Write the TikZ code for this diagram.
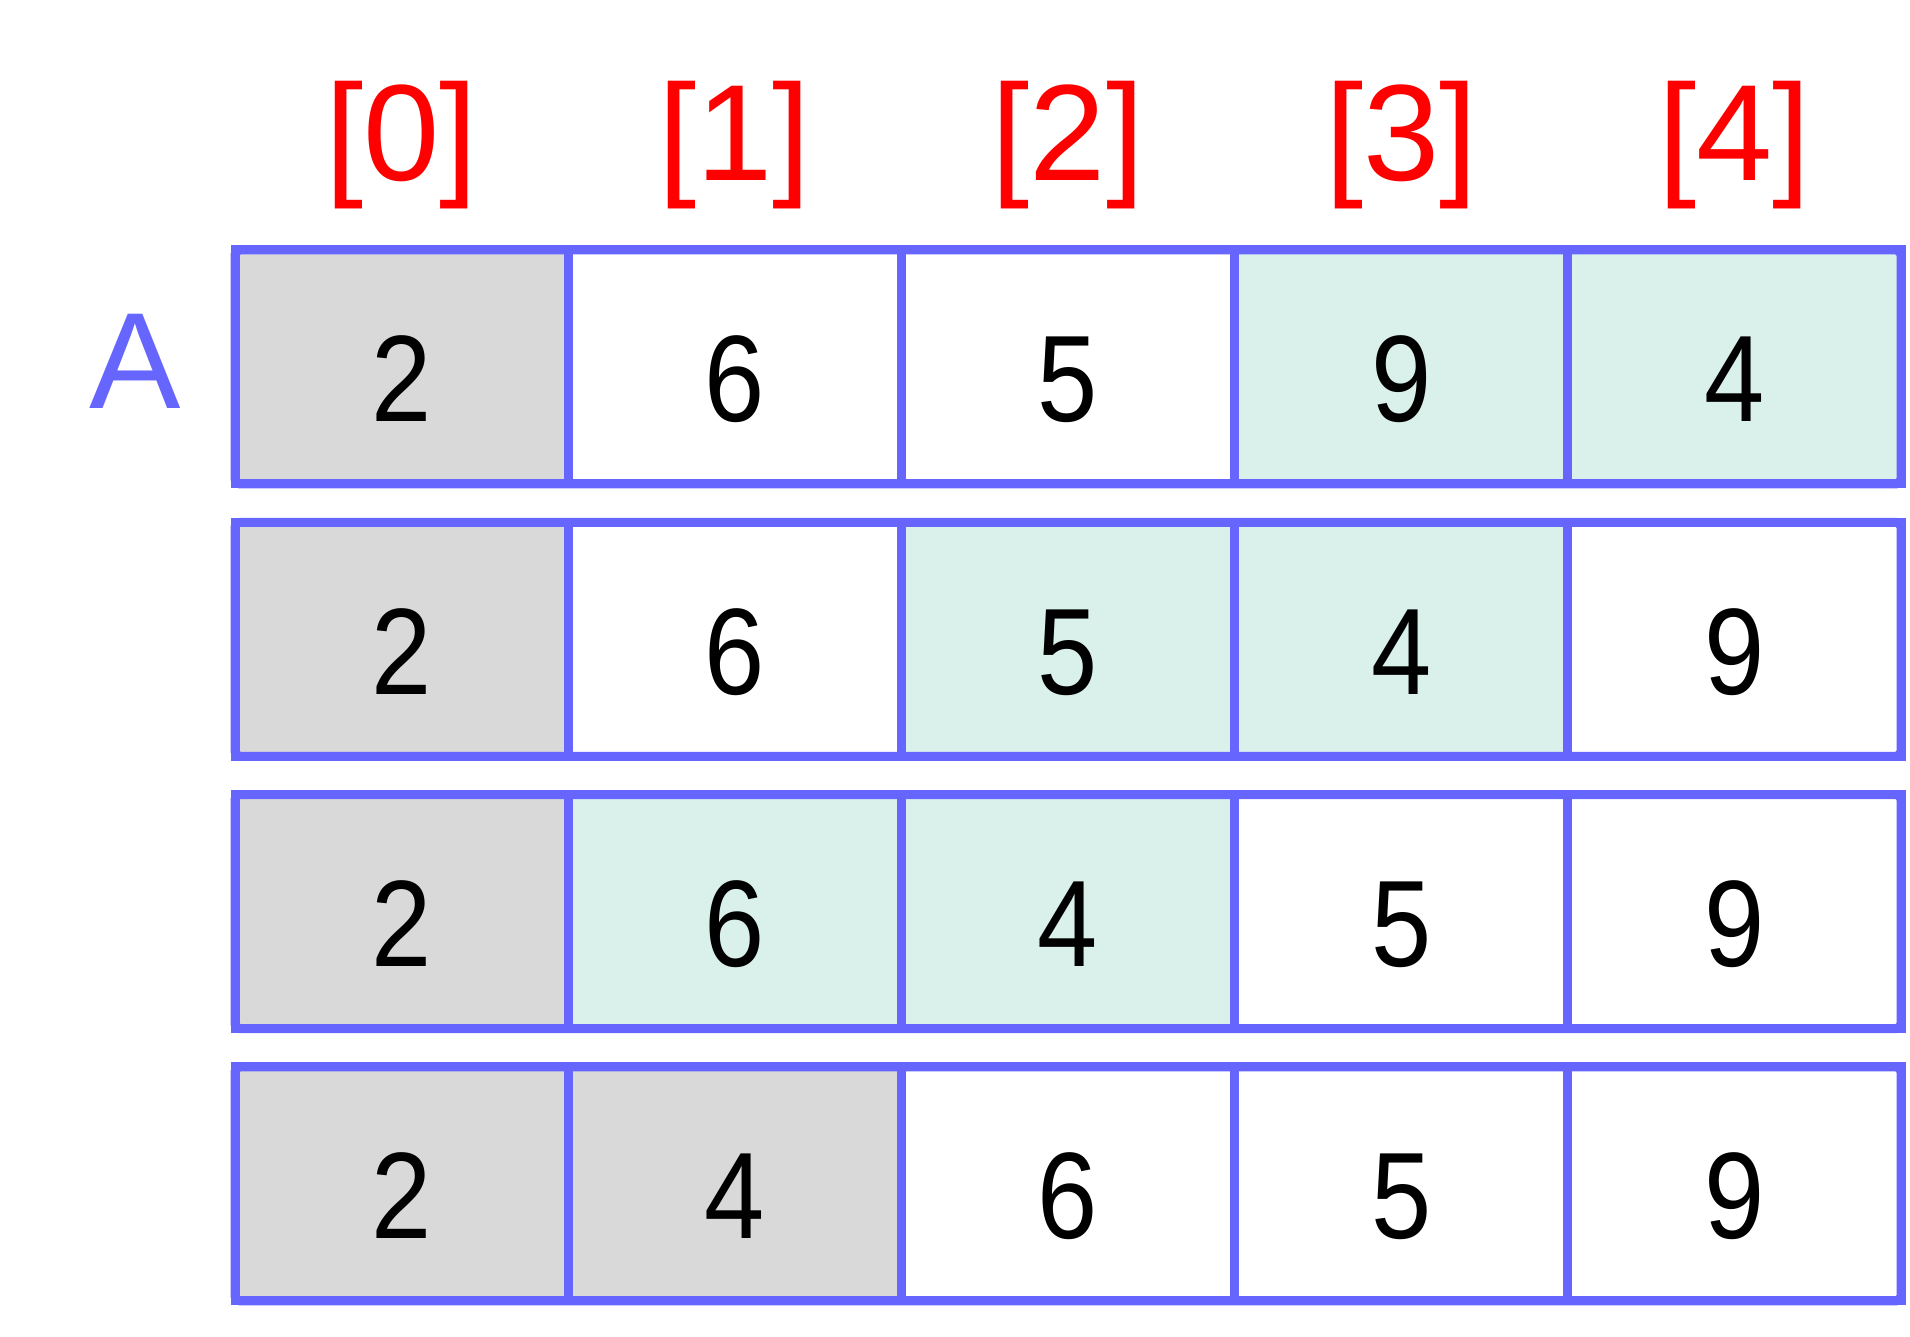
\documentclass[tikz,border=0pt]{standalone}
\usepackage{fontspec}
\setmainfont{Liberation Sans}
\newfontfamily\cellfont[FakeStretch=0.88]{Liberation Sans}
\usepackage{tikz}
\usepackage{xcolor}

\definecolor{gridblue}{HTML}{6666FF}
\definecolor{idxred}{HTML}{FF0000}
\definecolor{sortedgray}{HTML}{D9D9D9}
\definecolor{swapmint}{HTML}{DAF0EB}

\begin{document}
\begin{tikzpicture}[
    cell/.style={draw=gridblue,line width=0.09cm,fill=white,inner sep=0pt,outer sep=0pt,
        minimum width=3.332cm,minimum height=2.34cm,text height=1.1cm,text depth=0pt,
        font=\cellfont\fontsize{35}{35}\selectfont},
    done/.style={cell,fill=sortedgray},
    swap/.style={cell,fill=swapmint},
    index/.style={text=idxred,inner sep=0pt,font=\fontsize{39}{39}\selectfont},
    arrname/.style={text=gridblue,inner sep=0pt,font=\fontsize{39}{39}\selectfont},
    frame/.style={draw=gridblue,line width=0.09cm,rounded corners=0.05cm}
]
    \useasboundingbox (0,0) rectangle (19.10,13.37);

    % indices
    \node[index] (i0) at (4.016,11.915) {[0]};
    \node[index] (i1) at (7.348,11.915) {[1]};
    \node[index] (i2) at (10.680,11.915) {[2]};
    \node[index] (i3) at (14.012,11.915) {[3]};
    \node[index] (i4) at (17.344,11.915) {[4]};
    \node[arrname] (A) at (1.35,9.76) {A};

    % pass 1
    \node[done] (r1c0) at (4.016,9.70) {2};
    \node[cell] (r1c1) at (7.348,9.70) {6};
    \node[cell] (r1c2) at (10.680,9.70) {5};
    \node[swap] (r1c3) at (14.012,9.70) {9};
    \node[swap] (r1c4) at (17.344,9.70) {4};
    \draw[frame] (r1c0.north west) rectangle (r1c4.south east);

    % pass 2
    \node[done] (r2c0) at (4.016,6.977) {2};
    \node[cell] (r2c1) at (7.348,6.977) {6};
    \node[swap] (r2c2) at (10.680,6.977) {5};
    \node[swap] (r2c3) at (14.012,6.977) {4};
    \node[cell] (r2c4) at (17.344,6.977) {9};
    \draw[frame] (r2c0.north west) rectangle (r2c4.south east);

    % pass 3
    \node[done] (r3c0) at (4.016,4.254) {2};
    \node[swap] (r3c1) at (7.348,4.254) {6};
    \node[swap] (r3c2) at (10.680,4.254) {4};
    \node[cell] (r3c3) at (14.012,4.254) {5};
    \node[cell] (r3c4) at (17.344,4.254) {9};
    \draw[frame] (r3c0.north west) rectangle (r3c4.south east);

    % pass 4
    \node[done] (r4c0) at (4.016,1.531) {2};
    \node[done] (r4c1) at (7.348,1.531) {4};
    \node[cell] (r4c2) at (10.680,1.531) {6};
    \node[cell] (r4c3) at (14.012,1.531) {5};
    \node[cell] (r4c4) at (17.344,1.531) {9};
    \draw[frame] (r4c0.north west) rectangle (r4c4.south east);
\end{tikzpicture}
\end{document}
